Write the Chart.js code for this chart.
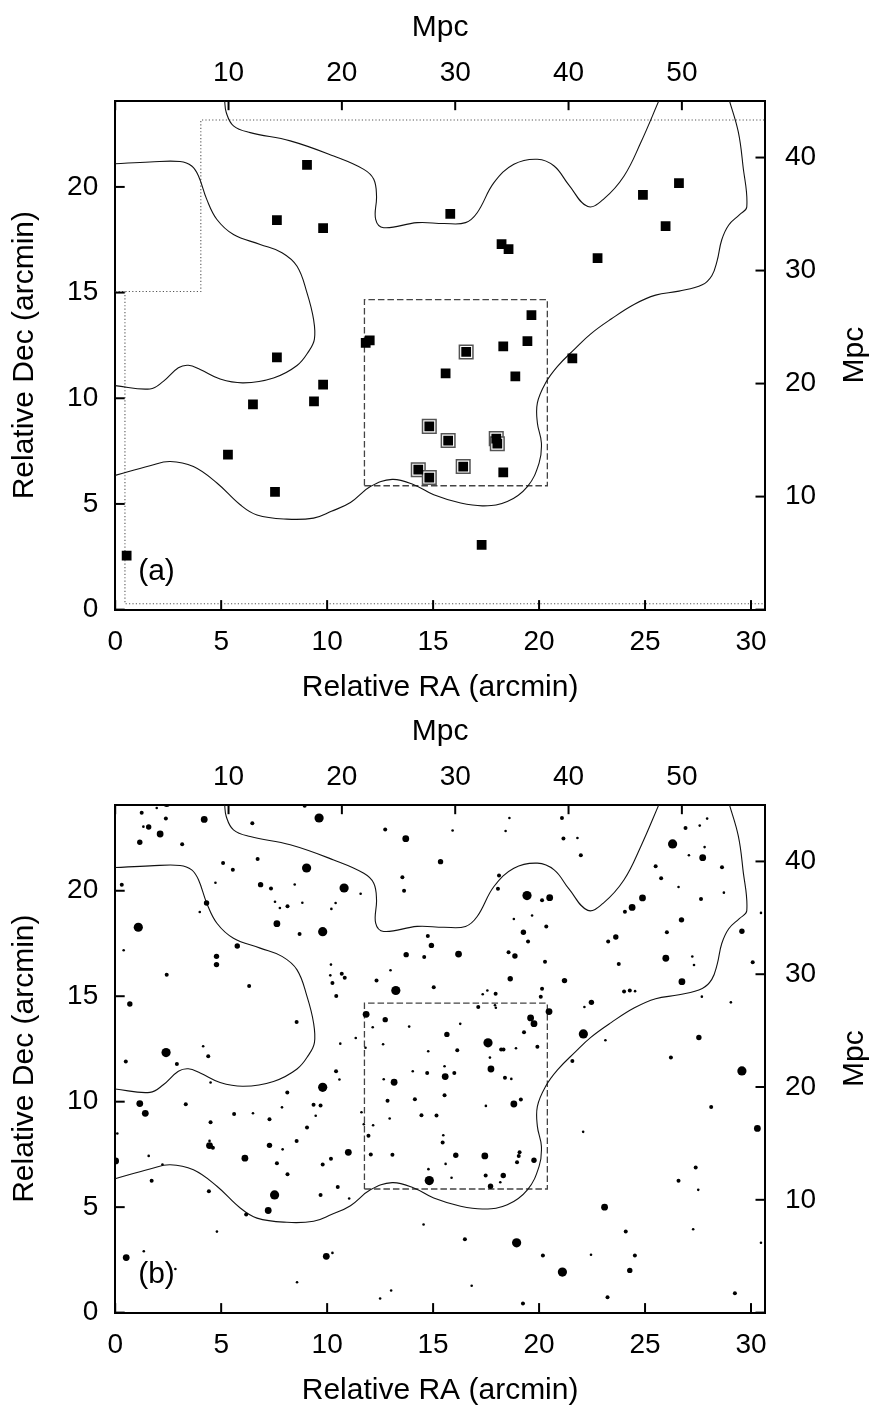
<!DOCTYPE html>
<html>
<head>
<meta charset="utf-8">
<script src="https://cdn.jsdelivr.net/npm/chart.js@4.4.0/dist/chart.umd.min.js"></script>
<style>
  html, body { margin: 0; padding: 0; background: #fff; }
  canvas { display: block; }
</style>
</head>
<body>
<canvas id="panelA" width="873" height="704"></canvas>
<canvas id="panelB" width="873" height="703"></canvas>
<script>
// ---------- data (arcmin) ----------
const RA_MAX = 30.66, DEC_MAX = 24.08;
const MPC_PER_ARCMIN = 1.87;

// panel (a): cluster members
const membersRA  = [9.05, 7.63, 9.81, 15.81, 18.23, 18.56, 22.76, 24.90, 26.60, 25.97, 19.64, 7.63, 11.82, 12.01, 9.81, 9.38, 6.50, 5.32, 7.54, 0.54, 15.59, 18.31, 19.45, 16.56, 18.88, 21.57, 14.82, 15.71, 17.98, 18.03, 14.30, 14.82, 16.42, 18.31, 17.29];
const membersDec = [21.04, 18.43, 18.05, 18.72, 17.29, 17.06, 16.63, 19.62, 20.18, 18.15, 13.93, 11.94, 12.62, 12.74, 10.64, 9.85, 9.71, 7.33, 5.57, 2.55, 11.18, 12.46, 12.70, 12.19, 11.04, 11.89, 8.67, 8.00, 8.09, 7.85, 6.62, 6.25, 6.77, 6.49, 3.06];
// members that are boxed
const boxedRA  = [16.56, 14.82, 15.71, 17.98, 18.03, 14.30, 14.82, 16.42];
const boxedDec = [12.19, 8.67, 8.00, 8.09, 7.85, 6.62, 6.25, 6.77];

// panel (b): galaxies by brightness class [RA, Dec]
const galBrightest = [[9.62,23.45],[9.03,21.08],[1.09,18.27],[9.79,18.06],[2.40,12.33],[10.80,20.13],[19.43,19.77],[13.24,15.27],[17.59,12.79],[26.30,22.22],[22.09,13.21],[9.79,10.68],[7.52,5.58],[14.82,6.26],[18.94,3.31],[29.57,11.46],[21.10,1.92]];
const galBright = [[2.43,24.13],[4.20,23.38],[2.12,22.69],[7.63,18.44],[13.71,22.47],[20.50,19.67],[16.20,17.00],[11.84,14.14],[19.60,13.97],[19.76,13.70],[20.47,14.27],[27.72,21.57],[24.88,19.66],[24.39,19.21],[25.98,16.80],[26.74,15.69],[1.16,9.91],[1.42,9.45],[0.02,7.19],[4.45,7.92],[6.12,7.32],[7.22,4.84],[0.52,2.61],[9.96,2.67],[13.16,10.92],[15.57,11.19],[17.73,11.55],[18.81,9.89],[11.00,7.60],[17.44,7.43],[30.30,8.73],[23.09,5.00]];
const galMid = [[1.58,23.02],[1.16,22.30],[6.86,20.29],[4.31,19.42],[5.76,17.38],[4.78,16.89],[4.78,16.50],[0.69,14.63],[15.35,21.38],[19.26,18.03],[14.92,17.41],[13.73,16.97],[18.86,16.91],[18.64,15.83],[12.74,13.89],[15.65,13.19],[26.72,18.62],[29.57,18.08],[23.62,17.81],[21.20,15.74],[22.47,14.71],[27.54,13.04],[7.28,7.93],[16.07,7.46],[19.76,7.22],[18.31,6.50],[17.71,5.99],[24.28,2.00]];
const galFaint = [[1.25,23.70],[2.39,23.42],[3.16,22.20],[6.47,23.20],[8.94,24.03],[5.09,21.32],[5.55,20.99],[6.72,21.51],[0.31,20.29],[7.35,20.11],[8.13,19.26],[8.70,17.95],[2.43,16.02],[6.32,15.49],[8.56,13.78],[4.39,12.15],[12.74,22.91],[13.55,20.64],[13.63,20.00],[18.11,20.72],[18.06,20.10],[20.14,19.55],[20.34,18.30],[19.48,17.59],[14.75,17.86],[14.58,16.86],[18.56,17.08],[20.28,16.63],[10.25,15.63],[10.69,16.06],[10.83,15.87],[10.43,15.01],[12.33,15.74],[15.03,15.42],[17.95,15.12],[20.14,15.35],[20.08,14.97],[17.13,14.49],[19.29,13.29],[18.21,12.47],[18.32,12.47],[19.92,12.61],[16.14,12.44],[21.08,23.45],[21.15,22.48],[21.97,21.68],[26.91,22.98],[25.50,21.16],[28.63,21.11],[25.76,20.59],[27.64,19.61],[24.05,19.01],[26.03,18.03],[23.26,17.60],[23.76,16.53],[30.08,16.61],[24.01,15.22],[24.28,15.27],[26.22,12.10],[0.50,11.90],[2.91,11.79],[3.33,9.88],[1.72,6.25],[4.50,9.02],[4.61,7.81],[5.61,9.42],[7.28,9.17],[8.12,10.43],[9.36,9.86],[9.69,9.82],[9.05,8.77],[8.56,8.14],[7.63,7.08],[8.13,6.56],[9.79,7.02],[10.18,7.29],[4.42,5.75],[6.18,4.65],[9.69,5.58],[10.42,11.44],[14.72,11.36],[16.00,11.36],[18.39,11.14],[12.85,10.04],[14.14,10.11],[15.54,10.30],[19.14,10.10],[14.45,9.36],[15.16,9.34],[11.95,8.38],[15.45,8.06],[12.06,7.49],[13.08,7.48],[19.08,7.60],[19.04,7.43],[18.96,7.13],[17.48,6.50],[10.50,5.96],[16.50,3.48],[20.18,2.71],[19.24,0.43],[21.57,11.93],[28.12,9.75],[27.39,6.88],[26.58,6.25],[24.09,3.84],[24.52,2.71],[23.23,0.73],[29.24,0.92]];
const galFaintest = [[1.96,23.92],[1.33,23.04],[4.73,20.38],[8.47,20.30],[3.99,18.99],[7.54,19.48],[7.77,19.18],[8.83,19.43],[10.20,19.14],[0.40,17.18],[4.15,12.63],[15.92,22.86],[18.60,23.45],[18.42,22.83],[11.58,19.86],[10.40,19.42],[18.81,18.66],[19.67,18.83],[10.18,16.50],[10.15,15.99],[12.99,16.23],[17.34,15.09],[17.56,15.27],[17.92,14.57],[17.96,14.45],[12.15,13.53],[13.87,13.56],[16.28,13.69],[18.91,12.53],[14.77,12.39],[12.64,12.72],[11.81,12.56],[10.62,12.75],[11.35,13.02],[17.68,12.09],[21.81,22.50],[27.58,23.09],[27.93,23.42],[27.81,22.07],[27.07,21.68],[26.58,20.18],[28.72,19.91],[30.47,18.95],[27.23,16.88],[27.31,16.48],[24.53,15.24],[27.68,14.98],[29.05,14.71],[22.14,14.49],[23.13,12.91],[4.50,10.91],[0.10,8.49],[1.58,7.43],[2.23,7.02],[4.45,8.14],[6.50,9.45],[7.87,9.73],[9.46,9.33],[7.90,7.74],[4.80,3.84],[1.35,2.91],[2.84,2.07],[8.58,1.44],[10.25,2.83],[10.58,11.05],[12.67,11.06],[14.04,11.44],[15.54,11.68],[18.69,11.08],[17.49,9.80],[11.62,9.50],[12.95,9.20],[11.73,8.93],[12.17,8.88],[15.48,8.41],[15.59,7.05],[14.78,6.80],[15.87,6.39],[18.17,6.18],[11.04,5.41],[14.55,4.18],[16.82,1.27],[13.02,1.05],[12.50,0.67],[22.08,8.57],[27.51,5.82],[27.27,3.95],[30.47,3.31],[22.45,2.74]];

// density contours
const contourLeft = [[0,21.10],[1.64,21.18],[3.06,21.20],[3.61,20.99],[3.93,20.52],[4.32,19.41],[4.80,18.46],[5.58,17.75],[6.84,17.28],[7.87,16.89],[8.58,16.25],[9.05,14.99],[9.36,13.73],[9.40,12.80],[9.13,12.22],[8.58,11.55],[7.47,10.96],[6.05,10.73],[4.95,10.91],[4.01,11.36],[3.45,11.56],[2.98,11.44],[2.27,10.80],[1.64,10.44],[0,10.60]];
const contourTop = [[5.16,24.12],[5.24,23.52],[5.58,22.89],[6.37,22.57],[8.26,22.18],[10.31,21.46],[11.73,20.83],[12.20,20.36],[12.33,19.57],[12.29,18.46],[12.67,18.07],[14.25,18.31],[15.51,18.27],[16.53,18.31],[17.08,18.78],[17.87,20.20],[18.81,21.07],[19.92,21.31],[20.71,20.99],[21.40,20.10],[22.30,19.07],[23.07,19.45],[24.01,20.52],[24.80,22.10],[25.67,24.12]];
const contourRight = [[28.97,24.12],[29.40,22.60],[29.62,21.00],[29.80,19.05],[29.45,18.68],[28.95,18.20],[28.62,17.50],[28.40,16.50],[28.15,15.80],[27.70,15.37],[26.60,15.07],[25.50,14.88],[24.50,14.45],[23.40,13.75],[22.44,13.05],[21.70,12.35],[20.87,11.51],[20.31,10.73],[19.92,9.78],[19.92,8.83],[20.11,7.88],[20.00,6.93],[19.45,5.82],[18.50,5.11],[17.40,4.91],[16.30,5.04],[15.03,5.43],[14.09,5.91],[13.07,6.16],[12.04,5.82],[11.10,5.07],[10.20,4.65],[9.36,4.33],[8.10,4.28],[6.69,4.48],[5.90,4.96],[4.80,5.99],[3.69,6.77],[2.59,7.01],[1.64,6.81],[0,6.35]];

// field outlines
const zoomBox = [[11.76,5.86],[20.39,5.86],[20.39,14.67],[11.76,14.67],[11.76,5.86]];
const surveyEdgeUpper = [[0,15.05],[4.04,15.05],[4.04,23.17],[30.66,23.17]];
const surveyEdgeLower = [[0.46,15.05],[0.46,0.28],[30.66,0.28]];

// ---------- helpers ----------
const FONT = '"Liberation Sans", Arial, Helvetica, sans-serif';
const pts = arr => arr.map(p => ({x: p[0], y: p[1]}));
const zip = (xs, ys) => xs.map((x, i) => ({x, y: ys[i]}));

function lineSet(arr, color, width, dash) {
  return {data: pts(arr), showLine: true, pointRadius: 0, borderColor: color,
    borderWidth: width, borderDash: dash || [], tension: dash ? 0 : 0.4, fill: false};
}

function dotSet(arr, r) {
  return {data: pts(arr), pointStyle: 'circle', pointRadius: r, backgroundColor: '#000', borderWidth: 0};
}

function makeScales() {
  const tickFont = {family: FONT, size: 28};
  const titleFont = {family: FONT, size: 30, lineHeight: 1};
  const border = {display: true, color: '#000', width: 2};
  const grid = {display: false, drawTicks: false};
  const hideZero = v => (v === 0 ? '' : v);
  return {
    x: {type: 'linear', position: 'bottom', min: 0, max: RA_MAX, grid, border,
      ticks: {stepSize: 5, includeBounds: false, color: '#000', font: tickFont, padding: 16, maxRotation: 0},
      title: {display: true, text: 'Relative RA (arcmin)', color: '#000', font: titleFont, padding: {top: 0, bottom: 1}},
      afterFit: s => { s.height = 94.4; }},
    x2: {type: 'linear', position: 'top', min: 0, max: RA_MAX * MPC_PER_ARCMIN, grid, border,
      ticks: {stepSize: 10, includeBounds: false, color: '#000', font: tickFont, padding: 11, maxRotation: 0, callback: hideZero},
      title: {display: true, text: 'Mpc', color: '#000', font: titleFont, padding: {top: 13, bottom: 0}},
      afterFit: s => { s.height = 100.7; }},
    y: {type: 'linear', position: 'left', min: 0, max: DEC_MAX, grid, border,
      ticks: {stepSize: 5, includeBounds: false, color: '#000', font: tickFont, padding: 17},
      title: {display: true, text: 'Relative Dec (arcmin)', color: '#000', font: titleFont, padding: {top: 10, bottom: 0}},
      afterFit: s => { s.width = 115.2; }},
    y2: {type: 'linear', position: 'right', min: 0, max: DEC_MAX * MPC_PER_ARCMIN, grid, border,
      ticks: {stepSize: 10, includeBounds: false, color: '#000', font: tickFont, padding: 20, callback: hideZero},
      title: {display: false},
      afterFit: s => { s.width = 108; }}
  };
}

// inward tick marks, panel tag and the rotated right-hand title
const decorations = {
  id: 'decorations',
  afterDraw(chart, args, opts) {
    const ctx = chart.ctx, a = chart.chartArea;
    const len = 9.5;
    ctx.save();
    ctx.strokeStyle = '#000';
    ctx.lineWidth = 2;
    for (const id of ['x', 'x2', 'y', 'y2']) {
      const s = chart.scales[id];
      s.ticks.forEach(t => {
        const p = s.getPixelForValue(t.value);
        ctx.beginPath();
        if (id === 'x') { ctx.moveTo(p, a.bottom); ctx.lineTo(p, a.bottom - len); }
        if (id === 'x2') { ctx.moveTo(p, a.top); ctx.lineTo(p, a.top + len); }
        if (id === 'y') { ctx.moveTo(a.left, p); ctx.lineTo(a.left + len, p); }
        if (id === 'y2') { ctx.moveTo(a.right, p); ctx.lineTo(a.right - len, p); }
        ctx.stroke();
      });
    }
    ctx.fillStyle = '#000';
    ctx.font = '30px ' + FONT;
    ctx.textAlign = 'left';
    ctx.textBaseline = 'alphabetic';
    ctx.fillText(opts.tag, a.left + 23, a.bottom - 30);

    ctx.translate(855, (a.top + a.bottom) / 2);
    ctx.rotate(-Math.PI / 2);
    ctx.textAlign = 'center';
    ctx.textBaseline = 'middle';
    ctx.fillText('Mpc', 0, 0);
    ctx.restore();
  }
};

function baseOptions(tag) {
  return {
    responsive: false,
    animation: false,
    events: [],
    layout: {padding: 0},
    scales: makeScales(),
    plugins: {legend: {display: false}, tooltip: {enabled: false}, decorations: {tag}}
  };
}

// ---------- panel (a) ----------
new Chart(document.getElementById('panelA'), {
  type: 'scatter',
  data: {datasets: [
    {data: zip(membersRA, membersDec), pointStyle: 'rect', pointRadius: 6.9, backgroundColor: '#000', borderWidth: 0},
    {data: zip(boxedRA, boxedDec), pointStyle: 'rect', pointRadius: 9.6, backgroundColor: '#fff', borderColor: '#555', borderWidth: 1.5},
    lineSet(contourLeft, '#111', 1.1),
    lineSet(contourTop, '#111', 1.1),
    lineSet(contourRight, '#111', 1.1),
    lineSet(zoomBox, '#444', 1.3, [6.5, 3]),
    lineSet(surveyEdgeUpper, '#555', 1.1, [1.2, 2.2]),
    lineSet(surveyEdgeLower, '#555', 1.1, [1.2, 2.2])
  ]},
  options: baseOptions('(a)'),
  plugins: [decorations]
});

// ---------- panel (b) ----------
new Chart(document.getElementById('panelB'), {
  type: 'scatter',
  data: {datasets: [
    dotSet(galBrightest, 4.6),
    dotSet(galBright, 3.4),
    dotSet(galMid, 2.7),
    dotSet(galFaint, 2.0),
    dotSet(galFaintest, 1.3),
    lineSet(contourLeft, '#111', 1.1),
    lineSet(contourTop, '#111', 1.1),
    lineSet(contourRight, '#111', 1.1),
    lineSet(zoomBox, '#444', 1.3, [6.5, 3])
  ]},
  options: baseOptions('(b)'),
  plugins: [decorations]
});
</script>
</body>
</html>
